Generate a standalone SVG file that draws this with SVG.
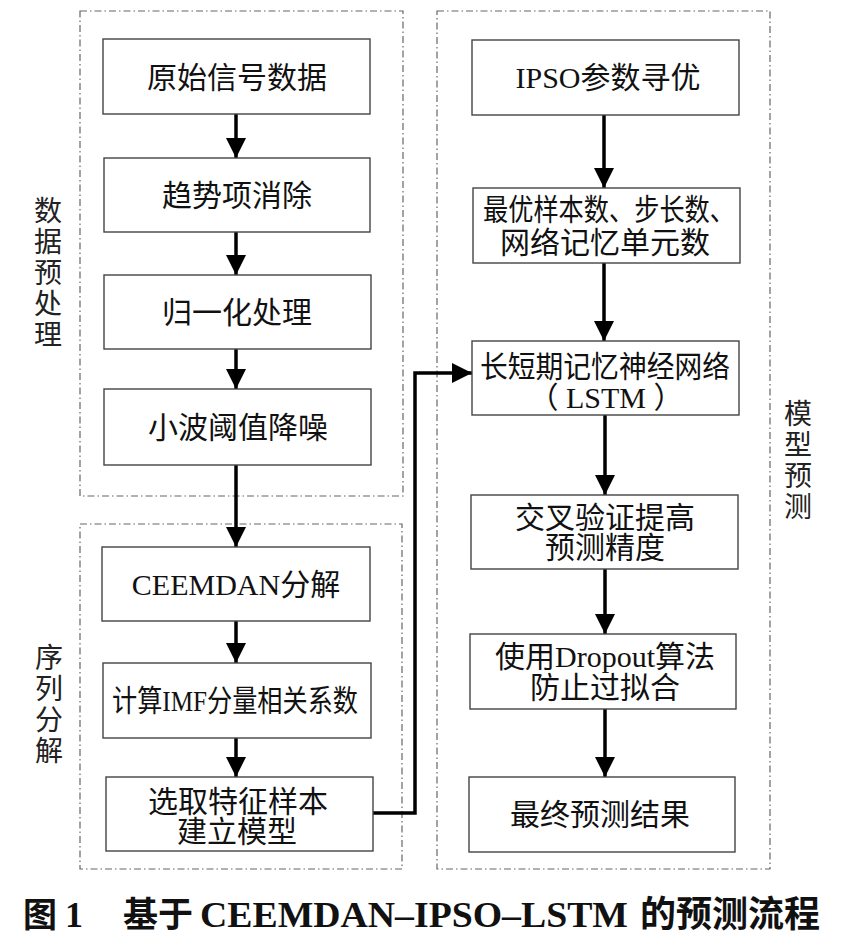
<svg xmlns="http://www.w3.org/2000/svg" width="845" height="946" viewBox="0 0 845 946">
<defs>
<style>
.grp{fill:none;stroke:#666;stroke-width:1.2;stroke-dasharray:7 3 1.5 3}
.box{fill:#fff;stroke:#444;stroke-width:1.4}
.t{font-family:"Liberation Serif","Noto Sans CJK SC",serif;font-size:30px;fill:#111;text-anchor:middle}
.lab{font-family:"Noto Sans CJK SC",sans-serif;font-size:28px;fill:#222;writing-mode:vertical-rl;text-orientation:upright;letter-spacing:3px}
.con{fill:none;stroke:#000;stroke-width:3.5}
.cap{font-weight:bold;fill:#111}
</style>
<marker id="ah" markerUnits="userSpaceOnUse" markerWidth="20" markerHeight="20" refX="20" refY="10" orient="auto">
<path d="M0,0 L20,10 L0,20 Z" fill="#000"/>
</marker>
</defs>
<rect width="845" height="946" fill="#fff"/>

<g id="groups">
<rect class="grp" x="80" y="11" width="323" height="485"/>
<rect class="grp" x="80" y="524" width="322" height="345"/>
<rect class="grp" x="437" y="11" width="333" height="858"/>
</g>

<g id="group-labels">
<text class="lab" x="48" y="196">数据预处理</text>
<text class="lab" x="49" y="643">序列分解</text>
<text class="lab" x="798" y="399">模型预测</text>
</g>

<g id="connectors">
<line class="con" x1="236" y1="114" x2="236" y2="158" marker-end="url(#ah)"/>
<line class="con" x1="236" y1="232" x2="236" y2="275" marker-end="url(#ah)"/>
<line class="con" x1="236" y1="349" x2="236" y2="389" marker-end="url(#ah)"/>
<line class="con" x1="236" y1="465" x2="236" y2="547" marker-end="url(#ah)"/>
<line class="con" x1="236" y1="621" x2="236" y2="663" marker-end="url(#ah)"/>
<line class="con" x1="236" y1="738" x2="236" y2="777" marker-end="url(#ah)"/>
<polyline class="con" points="373,813 415,813 415,373 472,373" marker-end="url(#ah)"/>
<line class="con" x1="604" y1="115" x2="604" y2="188" marker-end="url(#ah)"/>
<line class="con" x1="604" y1="263" x2="604" y2="341" marker-end="url(#ah)"/>
<line class="con" x1="605" y1="415" x2="605" y2="495" marker-end="url(#ah)"/>
<line class="con" x1="605" y1="569" x2="605" y2="634" marker-end="url(#ah)"/>
<line class="con" x1="605" y1="709" x2="605" y2="777" marker-end="url(#ah)"/>
</g>

<g id="n1"><rect class="box" x="103" y="39" width="267" height="75"/><text class="t" x="237" y="88">原始信号数据</text></g>
<g id="n2"><rect class="box" x="104" y="158" width="266" height="74"/><text class="t" x="237" y="206">趋势项消除</text></g>
<g id="n3"><rect class="box" x="104" y="275" width="267" height="74"/><text class="t" x="237" y="323">归一化处理</text></g>
<g id="n4"><rect class="box" x="104" y="389" width="267" height="76"/><text class="t" x="238" y="438">小波阈值降噪</text></g>
<g id="n5"><rect class="box" x="102" y="547" width="268" height="74"/><text class="t" x="236" y="595">CEEMDAN分解</text></g>
<g id="n6"><rect class="box" x="103" y="663" width="268" height="75"/><text class="t" x="235" y="711" textLength="246" lengthAdjust="spacingAndGlyphs">计算IMF分量相关系数</text></g>
<g id="n7"><rect class="box" x="106" y="777" width="267" height="74"/><text class="t" x="238" y="812">选取特征样本</text><text class="t" x="237" y="842">建立模型</text></g>

<g id="n8"><rect class="box" x="472" y="40" width="267" height="75"/><text class="t" x="608" y="88">IPSO参数寻优</text></g>
<g id="n9"><rect class="box" x="473" y="188" width="267" height="75"/><text class="t" x="609" y="220" textLength="252" lengthAdjust="spacingAndGlyphs">最优样本数、步长数、</text><text class="t" x="605" y="253">网络记忆单元数</text></g>
<g id="n10"><rect class="box" x="472" y="341" width="267" height="74"/><text class="t" x="605" y="377" textLength="250" lengthAdjust="spacingAndGlyphs">长短期记忆神经网络</text><text class="t" x="606" y="408">（ LSTM ）</text></g>
<g id="n11"><rect class="box" x="471" y="495" width="267" height="74"/><text class="t" x="605" y="528">交叉验证提高</text><text class="t" x="605" y="558">预测精度</text></g>
<g id="n12"><rect class="box" x="470" y="634" width="266" height="75"/><text class="t" x="605" y="667">使用Dropout算法</text><text class="t" x="605" y="698">防止过拟合</text></g>
<g id="n13"><rect class="box" x="469" y="777" width="266" height="75"/><text class="t" x="600" y="825">最终预测结果</text></g>

<g id="caption" class="cap">
<text x="23" y="927" font-family="Noto Sans CJK SC,sans-serif" font-size="34" font-weight="bold">图</text>
<text x="65" y="927" font-family="Liberation Serif,serif" font-size="36" font-weight="bold">1</text>
<text x="123" y="927" font-family="Noto Sans CJK SC,sans-serif" font-size="35" font-weight="bold">基于</text>
<text x="200" y="927" font-family="Liberation Serif,serif" font-size="36" font-weight="bold" textLength="428" lengthAdjust="spacingAndGlyphs">CEEMDAN–IPSO–LSTM</text>
<text x="640" y="927" font-family="Noto Sans CJK SC,sans-serif" font-size="36" font-weight="bold">的预测流程</text>
</g>
</svg>
